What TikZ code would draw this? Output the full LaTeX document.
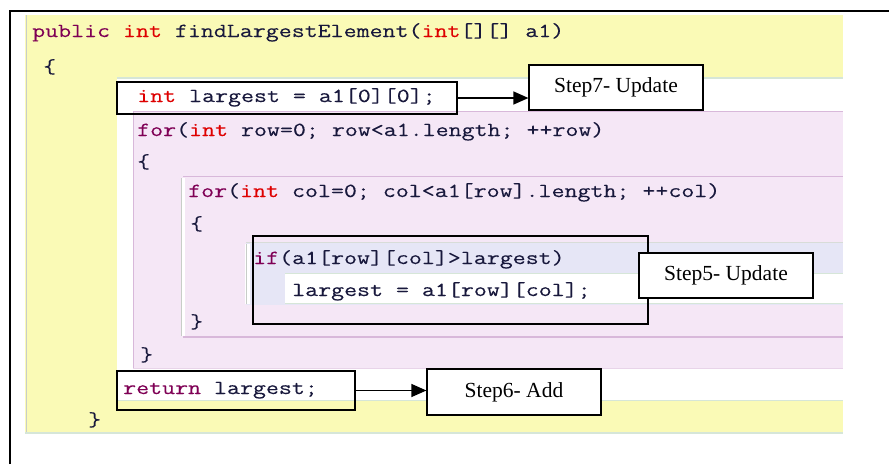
\documentclass[tikz,border=0pt]{standalone}
\usepackage{fontspec}
\newfontfamily\codefont[FakeStretch=1.26,FakeBold=0.2]{Latin Modern Mono}
\newfontfamily\stepfont{Liberation Serif}
\usetikzlibrary{arrows.meta}

\definecolor{bgyellow}{RGB}{250,250,182}
\definecolor{bgpink}{RGB}{245,231,246}
\definecolor{pinkline}{RGB}{216,184,218}
\definecolor{bglav}{RGB}{230,230,246}
\definecolor{bandline}{RGB}{214,230,216}
\definecolor{edgegray}{RGB}{200,205,200}
\definecolor{kwmaroon}{RGB}{127,0,85}
\definecolor{kwred}{RGB}{222,0,0}
\definecolor{codeink}{RGB}{24,24,60}

\newcommand\kwd[1]{\textcolor{kwmaroon}{#1}}
\newcommand\typ[1]{\textcolor{kwred}{#1}}

\tikzset{
  code/.style={anchor=base west, inner sep=0pt, text=codeink,
    font=\codefont\fontsize{20}{20}\selectfont},
  hlbox/.style={draw=black, line width=2.6pt, inner sep=0pt},
  stepbox/.style={draw=black, fill=white, line width=1.2pt, inner sep=0pt,
    minimum width=174pt, font=\stepfont\fontsize{21.5}{21.5}\selectfont},
  pointer/.style={draw=black, line width=1.3pt,
    -{Triangle[length=15pt,width=13pt]}},
}

\begin{document}
\begin{tikzpicture}[x=1pt, y=-1pt]
\useasboundingbox (0,0) rectangle (889,464);

% editor background bands
\fill[bgyellow] (25,15) rectangle (843,433);
\draw[edgegray, line width=1.5pt] (26.5,15) -- (26.5,433);
\draw[bandline, line width=1.2pt] (25,433) -- (843,433);
\fill[white] (117,78) rectangle (843,111);
\draw[bandline, line width=1.2pt] (117,78) -- (843,78);
\fill[white] (117,111) rectangle (133,368);
\fill[white] (117,368) rectangle (843,400);
\draw[bandline, line width=1.2pt] (117,400.5) -- (843,400.5);

% outer loop block
\fill[bgpink] (133,111) rectangle (843,368);
\draw[pinkline, line width=1.5pt] (133,111.5) -- (843,111.5);
\draw[pinkline, line width=1pt] (133.5,111) -- (133.5,368);
\draw[pinkline!60, line width=1pt] (133,368) -- (843,368);

% inner loop block
\draw[pinkline, line width=1.3pt] (183,176.5) -- (843,176.5);
\draw[pinkline, line width=1.3pt] (183,337) -- (843,337);
\fill[white] (180.5,178) rectangle (185,336);
\draw[edgegray, line width=0.8pt] (181,178) -- (181,336);

% if block
\fill[bglav] (246,242) rectangle (843,305);
\draw[edgegray!70, line width=1pt] (246,242) -- (843,242);
\fill[white] (285,273) rectangle (843,303);
\draw[bandline, line width=1pt] (285,273) -- (843,273);
\draw[bandline, line width=1pt] (285,303.5) -- (843,303.5);
\fill[white] (245,244) rectangle (249.5,304);
\draw[edgegray, line width=0.8pt] (246,244) -- (246,304);

% frame
\draw[black, line width=2.2pt] (10,464) -- (10,11) -- (889,11);

% code text
\node[code] (l1) at (32,37) {\kwd{public} \typ{int} findLargestElement(\typ{int}[][] a1)};
\node[code] (l2) at (43,73) {\{};
\node[code] (l3) at (137,102) {\typ{int} largest = a1[0][0];};
\node[code] (l4) at (137,136) {\kwd{for}(\typ{int} row=0; row<a1.length; ++row)};
\node[code] (l5) at (137,168) {\{};
\node[code] (l6) at (188,197) {\kwd{for}(\typ{int} col=0; col<a1[row].length; ++col)};
\node[code] (l7) at (190,230) {\{};
\node[code] (l8) at (253,264) {\kwd{if}(a1[row][col]>largest)};
\node[code] (l9) at (292,296) {largest = a1[row][col];};
\node[code] (l10) at (190,328) {\}};
\node[code] (l11) at (140,361) {\}};
\node[code] (l12) at (123,394) {\kwd{return} largest;};
\node[code] (l13) at (88,426) {\}};

% highlight boxes
\node[hlbox, minimum width=340pt, minimum height=32pt] (lgbox) at (287,98) {};
\node[hlbox, minimum width=395pt, minimum height=88pt] (ifbox) at (450.5,280) {};
\node[hlbox, minimum width=238pt, minimum height=39pt] (retbox) at (236,390.5) {};

% step labels
\node[stepbox, minimum height=45pt] (s7) at (616,87.5) {Step7- Update};
\node[stepbox, minimum height=45pt] (s5) at (726,275.5) {Step5- Update};
\node[stepbox, minimum height=46pt] (s6) at (514,392) {Step6- Add};

% pointers
\draw[pointer] (lgbox.east) -- (lgbox.east -| s7.west);
\draw[pointer] (retbox.east) -- (retbox.east -| s6.west);
\end{tikzpicture}
\end{document}
